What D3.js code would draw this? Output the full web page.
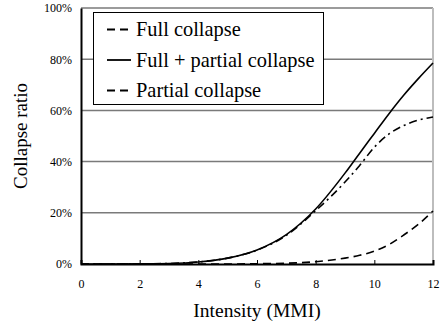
<!DOCTYPE html>
<html>
<head>
<meta charset="utf-8">
<script src="https://cdn.jsdelivr.net/npm/d3@7"></script>
<style>
  html, body { margin: 0; padding: 0; background: #fff; }
  svg { display: block; }
</style>
</head>
<body>
<svg id="chart" width="440" height="327"></svg>
<script>
// Collapse ratio (%) versus shaking intensity (MMI)
const mmi            = [0, 1, 2, 3, 4, 5, 6, 7, 8, 9, 9.5, 10, 10.5, 11, 11.5, 12];
const fullCollapse   = [0, 0, 0, 0, 0, 0, 0.1, 0.3, 0.9, 2.3, 3.4, 5.0, 7.6, 11.3, 15.5, 20.7];
const fullPlusPartial= [0, 0, 0.05, 0.2, 0.8, 2.3, 5.5, 11.5, 21.5, 35.5, 43.3, 51.0, 58.7, 65.9, 72.4, 78.5];
const partialCollapse= [0, 0, 0.05, 0.2, 0.8, 2.3, 5.4, 11.2, 20.8, 32.0, 38.5, 45.6, 50.8, 54.1, 56.2, 57.4];

const xTicks = [0, 2, 4, 6, 8, 10, 12];
const yTicks = [0, 20, 40, 60, 80, 100];

const seriesNames = ["Full collapse", "Full + partial collapse", "Partial collapse"];
const seriesValues = [fullCollapse, fullPlusPartial, partialCollapse];
const seriesDash = ["8,5", null, "8,4,2,4"];

const FONT = "Liberation Serif";

const svg = d3.select("#chart");
const L = 81, R = 433, T = 8, B = 264;

const x = d3.scaleLinear().domain([0, 12]).range([L, R]);
const y = d3.scaleLinear().domain([0, 100]).range([B, T]);

// horizontal gridlines
svg.append("g").selectAll("line")
  .data(yTicks.filter(d => d > 0))
  .join("line")
  .attr("x1", L).attr("x2", R)
  .attr("y1", d => y(d)).attr("y2", d => y(d))
  .attr("stroke", "#7a7a7a").attr("stroke-width", 1.5);

// right border
svg.append("line")
  .attr("x1", R).attr("x2", R).attr("y1", T).attr("y2", B)
  .attr("stroke", "#bdbdbd").attr("stroke-width", 2);

// y axis
const yAxis = d3.axisLeft(y).tickValues(yTicks).tickSize(0).tickPadding(9)
  .tickFormat(d => d + "%");
const gy = svg.append("g").attr("transform", `translate(${L},0)`).call(yAxis);
gy.attr("font-family", null).attr("font-size", null);
gy.selectAll("text").attr("font-family", FONT).attr("font-size", 12).attr("fill", "#000");
gy.select(".domain").attr("stroke", "#000").attr("stroke-width", 2);

// x axis with inward ticks
const xAxis = d3.axisBottom(x).tickValues(xTicks).tickSize(-4).tickPadding(15)
  .tickFormat(d3.format("d"));
const gx = svg.append("g").attr("transform", `translate(0,${B})`).call(xAxis);
gx.attr("font-family", null).attr("font-size", null);
gx.selectAll("text").attr("font-family", FONT).attr("font-size", 12).attr("fill", "#000");
gx.select(".domain").attr("stroke", "#000").attr("stroke-width", 2);
gx.selectAll(".tick line").attr("stroke", "#000").attr("stroke-width", 1);

// curves
const line = d3.line()
  .x((d, i) => x(mmi[i]))
  .y(d => y(d))
  .curve(d3.curveMonotoneX);

svg.append("g").selectAll("path")
  .data(seriesValues)
  .join("path")
  .attr("d", d => line(d))
  .attr("fill", "none")
  .attr("stroke", "#000")
  .attr("stroke-width", 1.6)
  .attr("stroke-dasharray", (d, i) => seriesDash[i]);

// legend
const lg = svg.append("g");
lg.append("rect")
  .attr("x", 93.5).attr("y", 12.5).attr("width", 230).attr("height", 92)
  .attr("fill", "#fff").attr("stroke", "#000").attr("stroke-width", 1);
const rowY = [29.5, 60, 90.5];
const legDash = ["8,5", null, "8,5"];
seriesNames.forEach((name, i) => {
  lg.append("line")
    .attr("x1", 107).attr("x2", 131)
    .attr("y1", rowY[i]).attr("y2", rowY[i])
    .attr("stroke", "#000").attr("stroke-width", 1.8)
    .attr("stroke-dasharray", legDash[i]);
  lg.append("text")
    .attr("x", 136).attr("y", rowY[i] + 6.5)
    .attr("font-family", FONT).attr("font-size", 20.4)
    .text(name);
});

// axis titles
svg.append("text")
  .attr("x", 257).attr("y", 317)
  .attr("text-anchor", "middle")
  .attr("font-family", FONT).attr("font-size", 19.5)
  .text("Intensity (MMI)");

svg.append("text")
  .attr("transform", `translate(27,136) rotate(-90)`)
  .attr("text-anchor", "middle")
  .attr("font-family", FONT).attr("font-size", 19)
  .text("Collapse ratio");
</script>
</body>
</html>
